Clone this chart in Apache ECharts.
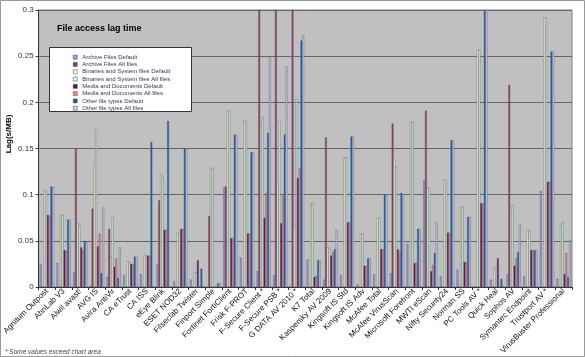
<!DOCTYPE html>
<html><head><meta charset="utf-8">
<script src="https://cdn.jsdelivr.net/npm/echarts@6/dist/echarts.min.js"></script>
<style>html,body{margin:0;padding:0;background:#fff}#c{width:585px;height:357px}</style>
</head><body><div id="c"></div>
<script>
var categories = ["Agnitum Outpost","AhnLab V3","Alwil avast!","AVG IS","Avira AntiVir","CA eTrust","CA ISS","eEye Blink","ESET NOD32","Filseclab Twister","Finport Simple","Fortinet FortiClient","Frisk F-PROT","F-Secure Client *","F-Secure PSB *","G DATA AV 2010 *","K7 Total","Kaspersky AV 2009","Kingsoft IS Std","Kingsoft IS Adv","McAfee Total","McAfee VirusScan","Microsoft Forefront","MWTI eScan","Nifty Security24","Norman SS","PC Tools AV *","Quick Heal","Sophos AV","Symantec Endpoint","Trustport AV *","VirusBuster Professional"];
var seriesNames = ["Archive Files Default","Archive Files All files","Binaries and System files Default","Binaries and System files All files","Media and Documents Default","Media and Documents All files","Other file types Default","Other file types All files"];
var archiveDefault = [0.025,0.026,0.016,0.001,0.011,0.013,0.014,0.025,0.006,0.008,0,0.108,0.032,0.017,0.013,0,0.030,0.008,0.013,0.003,0.014,0.015,0.047,0.116,0.012,0.019,0,0.008,0.014,0.012,0.104,0.009];
var archiveAll = [0,0,0.150,0.085,0.063,0,0,0.094,0,0,0.077,0.109,0,0.35,0.35,0.35,0,0.162,0,0,0,0.177,0,0.191,0,0,0,0,0.219,0,0,0];
var binDefault = [0.105,0.078,0.069,0.135,0.033,0.028,0.034,0.122,0.059,0.016,0.129,0.191,0.180,0.176,0.117,0.066,0.091,0.043,0.140,0.058,0.075,0.138,0.179,0.108,0.116,0.087,0.257,0.021,0.083,0.062,0.292,0.068];
var binAll = [0.104,0.078,0.067,0.172,0.076,0.027,0.034,0.120,0.058,0.016,0.129,0.191,0.180,0.185,0.181,0.204,0.091,0.042,0.140,0.058,0.075,0.130,0.179,0.107,0.116,0.087,0.257,0.021,0.089,0.062,0.292,0.070];
var mediaDefault = [0.078,0.040,0.043,0.044,0.022,0.025,0.034,0.062,0.063,0.029,0,0.053,0.058,0.075,0.069,0.118,0.011,0.034,0.070,0.023,0.041,0.041,0.026,0.017,0.059,0.027,0.091,0.031,0.023,0.040,0.114,0.014];
var mediaAll = [0.077,0.039,0.040,0.058,0.031,0.025,0.034,0.062,0.063,0,0,0.053,0.058,0.102,0.099,0.129,0.012,0.038,0.070,0.023,0.041,0.039,0.026,0.024,0.059,0.027,0.091,0,0.031,0.040,0.114,0.037];
var otherDefault = [0.109,0.073,0.050,0.015,0.010,0.033,0.157,0.180,0.150,0.020,0.004,0.165,0.146,0.167,0.165,0.267,0.029,0.041,0.163,0.031,0.100,0.102,0.063,0.037,0.159,0.076,0.35,0.009,0.038,0.040,0.255,0.011];
var otherAll = [0.108,0.073,0.049,0.086,0.043,0.033,0,0,0.150,0,0.004,0.165,0.146,0.249,0.239,0.273,0.029,0.062,0.163,0.031,0.100,0.101,0.063,0.070,0.159,0.076,0.35,0,0.068,0.040,0.255,0.051];
var colors = ["#9999FF","#993366","#FFFFCC","#CCFFFF","#660066","#FF8080","#0066CC","#CCCCFF"];
var allData = [archiveDefault,archiveAll,binDefault,binAll,mediaDefault,mediaAll,otherDefault,otherAll];

var FONT = "'Liberation Sans', Arial, sans-serif";
var chart = echarts.init(document.getElementById('c'), null, {renderer:'canvas'});
var series = allData.map(function(d,i){
  return {name: seriesNames[i], type:'bar', data:d, barGap:'0%', barCategoryGap:'15%', clip:true,
    itemStyle:{color:colors[i], borderColor:'#555', borderWidth:0.4}, animation:false};
});
chart.setOption({
  animation:false,
  backgroundColor:'#fff',
  textStyle:{fontFamily:FONT},
  grid:{left:31, right:13, top:10, bottom:70, show:true, backgroundColor:'#c0c0c0', borderColor:'#808080', borderWidth:1},
  legend:{orient:'vertical', left:68, top:48.5, itemWidth:4, itemHeight:4, itemGap:0, z:10,
    icon:'rect', itemStyle:{borderWidth:0.5, borderColor:'#444'},
    textStyle:{fontSize:6, color:'#333366', lineHeight:7.3, fontFamily:FONT}, data:seriesNames},
  xAxis:{type:'category', data:categories, boundaryGap:true,
    axisLine:{lineStyle:{color:'#333', width:1}},
    axisTick:{show:true, length:3, lineStyle:{color:'#333'}},
    axisLabel:{interval:0, rotate:45, fontSize:8, color:'#111', margin:3, fontFamily:FONT}},
  yAxis:{type:'value', min:0, max:0.3, interval:0.05,
    axisLine:{show:true, lineStyle:{color:'#333'}},
    axisTick:{show:true, length:3, lineStyle:{color:'#333'}},
    splitLine:{lineStyle:{color:'#666', width:1}},
    axisLabel:{fontSize:8, color:'#333', margin:5, fontFamily:FONT}},
  graphic:[
    {type:'rect', z:0, zlevel:0, silent:true, shape:{x:0.5,y:0.5,width:584,height:356}, style:{fill:null, stroke:'#999', lineWidth:1}},
    {type:'rect', z:5, silent:true, shape:{x:49.5,y:47.5,width:142,height:64}, style:{fill:'#fff', stroke:'#333', lineWidth:1}},
    {type:'text', z:10, x:57, y:28.5, style:{text:'File access lag time', font:"bold 9px "+FONT, fill:'#000', textVerticalAlign:'middle'}},
    {type:'text', z:10, x:9, y:134, rotation:Math.PI/2, style:{text:'Lag(s/MB)', font:"bold 8px "+FONT, fill:'#000', textAlign:'center', textVerticalAlign:'middle'}},
    {type:'text', z:10, x:5, y:352, style:{text:'* Some values exceed chart area', font:"italic 6.5px "+FONT, fill:'#444', textVerticalAlign:'middle'}}
  ],
  series:series
});
</script></body></html>
